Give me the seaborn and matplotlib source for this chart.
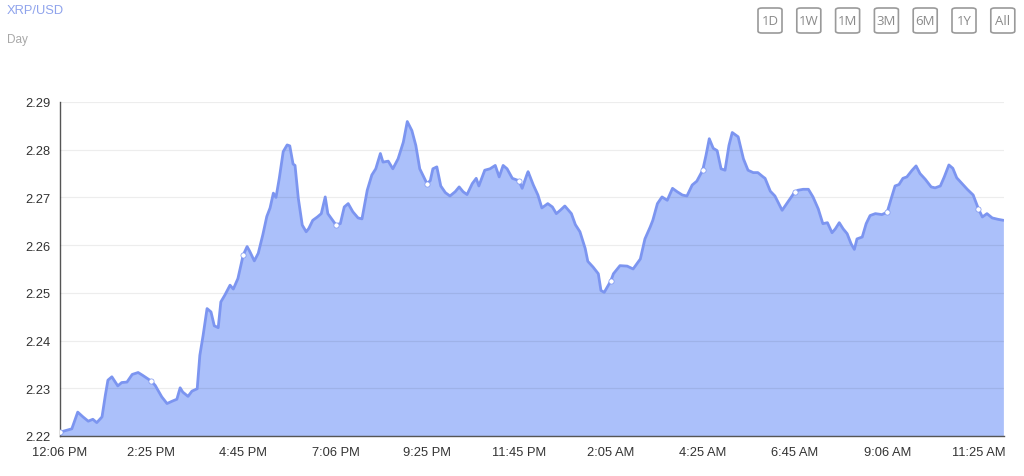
import matplotlib
matplotlib.use("Agg")
import matplotlib.pyplot as plt
from matplotlib.patches import FancyBboxPatch
import pandas as pd
import seaborn as sns

# minutes after 12:06 PM and XRP price
minutes = [0, 18, 27, 35, 43, 50, 56, 64, 69, 73, 79, 88, 94, 102, 110, 119, 126, 139,
           145, 155, 163, 171, 178, 183, 187, 195, 201, 209, 213, 218, 224, 230, 235,
           241, 245, 251, 259, 264, 271, 279, 285, 289, 296, 302, 309, 315, 320, 325,
           329, 334, 340, 346, 350, 355, 358, 363, 369, 375, 379, 385, 392, 398, 404,
           408, 420, 427, 433, 439, 446, 454, 460, 468, 475, 481, 488, 492, 500, 507,
           515, 523, 529, 536, 542, 548, 559, 564, 568, 574, 580, 587, 594, 602, 608,
           614, 620, 628, 634, 638, 647, 655, 663, 669, 675, 681, 689, 699, 704, 711,
           713, 721, 728, 734, 743, 750, 756, 762, 769, 779, 785, 792, 800, 804, 812,
           820, 824, 829, 839, 843, 853, 864, 873, 884, 891, 899, 903, 910, 917, 925,
           933, 940, 948, 955, 963, 970, 979, 984, 989, 995, 1001, 1007, 1013, 1019,
           1024, 1033, 1041, 1048, 1056, 1063, 1071, 1074, 1082, 1089, 1100, 1108,
           1119, 1124, 1132, 1140, 1147, 1155, 1162, 1169, 1176, 1181, 1187, 1193,
           1199, 1205, 1210, 1214, 1222, 1228, 1234, 1242, 1252, 1260, 1266, 1272,
           1278, 1284, 1290, 1298, 1304, 1310, 1318, 1327, 1333, 1341, 1347, 1354,
           1360, 1366, 1374, 1382, 1391, 1399, 1405, 1412, 1420, 1429, 1437]
price = [2.2208, 2.2215, 2.2250, 2.2240, 2.2231, 2.2235, 2.2228, 2.2240, 2.2285, 2.2317,
         2.2324, 2.2305, 2.2312, 2.2313, 2.2329, 2.2333, 2.2327, 2.2315, 2.2306, 2.2282,
         2.2268, 2.2273, 2.2277, 2.2301, 2.2292, 2.2283, 2.2294, 2.2299, 2.2369, 2.2411,
         2.2467, 2.2460, 2.2431, 2.2427, 2.2481, 2.2495, 2.2516, 2.2508, 2.2530, 2.2579,
         2.2597, 2.2587, 2.2567, 2.2583, 2.2622, 2.2660, 2.2678, 2.2709, 2.2700, 2.2740,
         2.2796, 2.2810, 2.2808, 2.2770, 2.2767, 2.2698, 2.2642, 2.2628, 2.2635, 2.2652,
         2.2659, 2.2666, 2.2701, 2.2666, 2.2643, 2.2645, 2.2680, 2.2687, 2.2670, 2.2657,
         2.2655, 2.2715, 2.2747, 2.2760, 2.2792, 2.2774, 2.2776, 2.2760, 2.2781, 2.2816,
         2.2859, 2.2840, 2.2809, 2.2760, 2.2729, 2.2735, 2.2760, 2.2764, 2.2724, 2.2710,
         2.2703, 2.2712, 2.2722, 2.2712, 2.2706, 2.2729, 2.2740, 2.2724, 2.2757, 2.2760,
         2.2767, 2.2743, 2.2767, 2.2760, 2.2740, 2.2735, 2.2719, 2.2747, 2.2754, 2.2726,
         2.2705, 2.2678, 2.2687, 2.2680, 2.2666, 2.2673, 2.2682, 2.2666, 2.2643, 2.2628,
         2.2593, 2.2566, 2.2554, 2.2540, 2.2505, 2.2501, 2.2525, 2.2540, 2.2557, 2.2556,
         2.2550, 2.2571, 2.2613, 2.2638, 2.2652, 2.2687, 2.2701, 2.2694, 2.2719, 2.2712,
         2.2705, 2.2703, 2.2726, 2.2734, 2.2757, 2.2788, 2.2823, 2.2803, 2.2798, 2.2760,
         2.2757, 2.2809, 2.2836, 2.2827, 2.2781, 2.2757, 2.2752, 2.2752, 2.2743, 2.2740,
         2.2713, 2.2703, 2.2673, 2.2689, 2.2711, 2.2715, 2.2717, 2.2717, 2.2701, 2.2676,
         2.2645, 2.2647, 2.2626, 2.2634, 2.2647, 2.2634, 2.2624, 2.2603, 2.2591, 2.2613,
         2.2617, 2.2645, 2.2662, 2.2666, 2.2664, 2.2669, 2.2697, 2.2724, 2.2727, 2.2740,
         2.2743, 2.2757, 2.2766, 2.2750, 2.2738, 2.2722, 2.2720, 2.2724, 2.2743, 2.2768,
         2.2761, 2.2741, 2.2729, 2.2717, 2.2705, 2.2676, 2.2659, 2.2666, 2.2657, 2.2654,
         2.2652]

tick_minutes = [0, 139, 279, 420, 559, 699, 839, 979, 1119, 1260, 1399]
tick_labels = ["12:06 PM", "2:25 PM", "4:45 PM", "7:06 PM", "9:25 PM", "11:45 PM",
               "2:05 AM", "4:25 AM", "6:45 AM", "9:06 AM", "11:25 AM"]
y_ticks = [2.22, 2.23, 2.24, 2.25, 2.26, 2.27, 2.28, 2.29]
range_buttons = ["1D", "1W", "1M", "3M", "6M", "1Y", "All"]

df = pd.DataFrame({"minute": minutes, "price": price})
marks = df[df["minute"].isin(tick_minutes)]

sns.set_style("white")
plt.rcParams['font.family'] = ['Liberation Sans', 'DejaVu Sans']

LINE = "#7c95f0"
FILL = "#abc0fa"
AXIS = "#555555"

fig = plt.figure(figsize=(10.24, 4.77), dpi=100)
ax = fig.add_axes([0.0586, 0.0839, 0.9219, 0.7002])

ax.fill_between(df["minute"], df["price"], 2.22, color=FILL, lw=0, zorder=1)
sns.lineplot(data=df, x="minute", y="price", color=LINE, lw=2.0, ax=ax, zorder=3,
             solid_joinstyle="round")
sns.scatterplot(data=marks, x="minute", y="price", color="white", s=14,
                edgecolor=LINE, linewidth=0.5, ax=ax, zorder=4)

ax.set_xlim(0, 1438)
ax.set_ylim(2.22, 2.29)
ax.set_xticks(tick_minutes)
ax.set_xticklabels(tick_labels)
ax.set_yticks(y_ticks)
ax.set_yticklabels([f"{v:.2f}" for v in y_ticks])
ax.set_xlabel("")
ax.set_ylabel("")

ax.grid(axis="y", color="black", alpha=0.07, lw=0.9, zorder=2)
ax.grid(axis="x", visible=False)
ax.set_axisbelow(False)
for side in ["top", "right"]:
    ax.spines[side].set_visible(False)
for side in ["left", "bottom"]:
    ax.spines[side].set_color(AXIS)
    ax.spines[side].set_linewidth(1.0)
ax.tick_params(axis="both", length=5, width=1.0, color=AXIS, labelsize=9.3,
               labelcolor="#333333", pad=2)

fig.text(0.0068, 0.977, "XRP/USD", fontsize=9.3, color="#8fa3ec", va="center")
fig.text(0.0068, 0.916, "Day", fontsize=8.5, color="#a8a8a8", va="center")

# range selector buttons, top right
x0 = 758
for i, lab in enumerate(range_buttons):
    left = (x0 + i * 38.8) / 1024
    box = FancyBboxPatch((left, 1 - 34 / 477), 24 / 1024, 25 / 477,
                         boxstyle="round,pad=0,rounding_size=0.004",
                         transform=fig.transFigure, fill=False,
                         edgecolor="#9a9a9a", lw=1.2)
    fig.patches.append(box)
    fig.text(left + 12 / 1024, 1 - 21.5 / 477, lab, fontsize=9.5, color="#8a8a8a",
             ha="center", va="center", family=["Open Sans", "DejaVu Sans"])

fig.savefig("out.png", dpi=100)
